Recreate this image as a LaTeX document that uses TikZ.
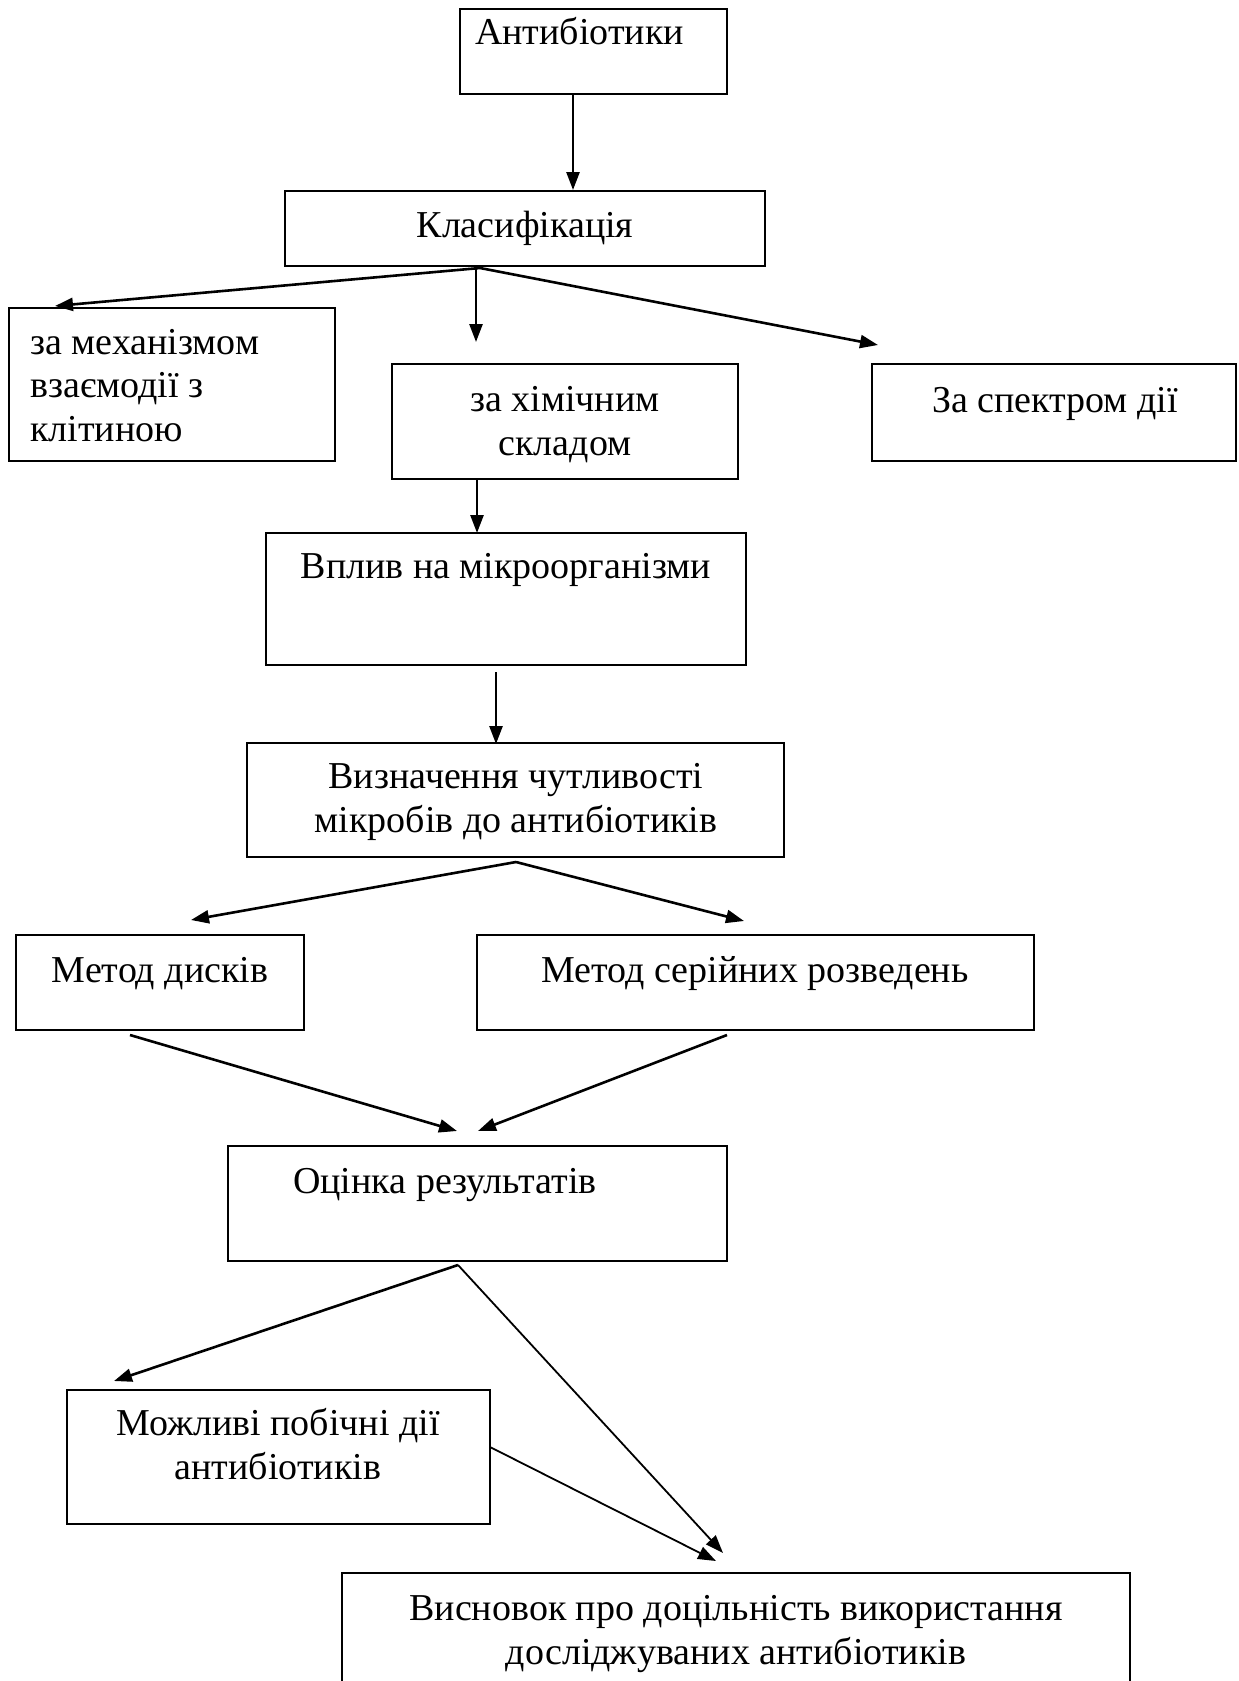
\documentclass[tikz,border=0pt]{standalone}
\usepackage{fontspec}
\setmainfont{Liberation Serif}
\usetikzlibrary{arrows.meta}
\begin{document}
\begin{tikzpicture}[x=1pt,y=-1pt,
  box/.style={draw,line width=2.4pt,inner sep=0pt,minimum width=#1},
  txt/.style={anchor=base,inner sep=0pt,font=\fontsize{38}{43.5}\selectfont,align=center},
  txtl/.style={txt,anchor=base west,align=left},
  arr/.style={line width=2.6pt,-{Triangle[length=18pt,width=13pt]}},
  arrthin/.style={line width=1.8pt,-{Triangle[length=18pt,width=13pt]}}]
\useasboundingbox (0,0) rectangle (1239,1681);
\clip (0,0) rectangle (1239,1681);

% boxes
\node[box=267pt,minimum height=85pt]  (ant)   at (593.5,51.5)  {};
\node[box=480pt,minimum height=75pt]  (klas)  at (525,228.5)   {};
\node[box=326pt,minimum height=153pt] (mech)  at (172,384.5)   {};
\node[box=346pt,minimum height=115pt] (chem)  at (565,421.5)   {};
\node[box=364pt,minimum height=97pt]  (spec)  at (1054,412.5)  {};
\node[box=480pt,minimum height=132pt] (vplyv) at (506,599)     {};
\node[box=537pt,minimum height=114pt] (vyzn)  at (515.5,800)   {};
\node[box=288pt,minimum height=95pt]  (disk)  at (160,982.5)   {};
\node[box=557pt,minimum height=95pt]  (ser)   at (755.5,982.5) {};
\node[box=499pt,minimum height=115pt] (ocin)  at (477.5,1203.5){};
\node[box=423pt,minimum height=134pt] (mozh)  at (278.5,1457)  {};
\node[box=788pt,minimum height=147pt] (vysn)  at (736,1646.5)  {};

% texts (multi-line nodes are placed by the baseline of their last line)
\node[txtl] (ant-t)   at (475,44)    {Антибіотики};
\node[txt]  (klas-t)  at (525,237)   {Класифікація};
\node[txtl] (mech-t)  at (30,441)    {за механізмом\\взаємодії з\\клітиною};
\node[txt]  (chem-t)  at (565,455)   {за хімічним\\складом};
\node[txt]  (spec-t)  at (1055,412)  {За спектром дії};
\node[txt]  (vplyv-t) at (506,578)   {Вплив на мікроорганізми};
\node[txt]  (vyzn-t)  at (516,832)   {Визначення чутливості\\мікробів до антибіотиків};
\node[txt]  (disk-t)  at (160,982)   {Метод дисків};
\node[txt]  (ser-t)   at (755,982)   {Метод серійних розведень};
\node[txt]  (ocin-t)  at (445,1193)  {Оцінка результатів};
\node[txt]  (mozh-t)  at (278,1479)  {Можливі побічні дії\\антибіотиків};
\node[txt]  (vysn-t)  at (736,1664)  {Висновок про доцільність використання\\досліджуваних антибіотиків};

% connector ends
\coordinate (a0) at (573,94);   \coordinate (a1) at (573,190);
\coordinate (k0) at (480,268);
\coordinate (k1) at (55,306);   \coordinate (k2) at (476,342);  \coordinate (k3) at (878,345);
\coordinate (c0) at (477,480);  \coordinate (c1) at (477,533);
\coordinate (v0) at (496,672);  \coordinate (v1) at (496,744);
\coordinate (z0) at (516,862);
\coordinate (z1) at (191,920);  \coordinate (z2) at (744,921);
\coordinate (d0) at (130,1035); \coordinate (d1) at (457,1131);
\coordinate (s0) at (727,1035); \coordinate (s1) at (478,1131);
\coordinate (o0) at (458,1265);
\coordinate (o1) at (114,1381); \coordinate (o2) at (723,1553);
\coordinate (m0) at (490,1447); \coordinate (m1) at (716,1561);

% connectors
\draw[arr] (a0) -- (a1);
\draw[arr] (k0) -- (k1);
\draw[arr] (k0 -| k2) -- (k2);
\draw[arr] (k0) -- (k3);
\draw[arr] (c0) -- (c1);
\draw[arr] (v0) -- (v1);
\draw[arr] (z0) -- (z1);
\draw[arr] (z0) -- (z2);
\draw[arr] (d0) -- (d1);
\draw[arr] (s0) -- (s1);
\draw[arr] (o0) -- (o1);
\draw[arrthin] (o0) -- (o2);
\draw[arrthin] (m0) -- (m1);
\end{tikzpicture}
\end{document}
